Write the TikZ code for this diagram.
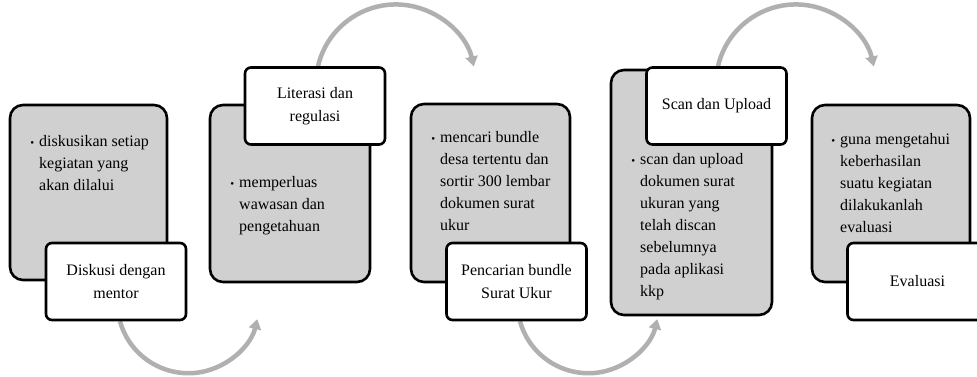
\documentclass[tikz,border=0pt]{standalone}
\usepackage{fontspec}
\setmainfont{Liberation Serif}
\usetikzlibrary{arrows.meta,backgrounds}
\definecolor{boxgray}{HTML}{D0D0D0}
\definecolor{arcgray}{HTML}{B0B0B0}
\tikzset{
  graybox/.style={draw=black, line width=2.6pt, fill=boxgray, rounded corners=13pt, inner sep=0pt},
  labelbox/.style={draw=black, line width=2.6pt, fill=white, rounded corners=6pt, inner sep=0pt,
    minimum width=140pt, minimum height=77pt, align=center,
    font=\fontsize{16}{23}\selectfont},
  bullettext/.style={anchor=north west, inner sep=0pt, align=left,
    font=\fontsize{16}{22}\selectfont, text=black},
  arcarrow/.style={draw=arcgray, line width=4.5pt, -{Triangle[length=10pt,width=12pt]}}
}
\newcommand{\bul}{\leavevmode\llap{{\fontsize{11}{11}\selectfont\textbullet}\hspace{5pt}}}
\begin{document}
\begin{tikzpicture}[x=1pt,y=1pt]
\useasboundingbox (0,0) rectangle (977,377);
\clip (0,0) rectangle (977,377);

% boxes
\node[graybox, minimum width=157pt, minimum height=175pt] (g1) at (88.5,184.5) {};
\node[graybox, minimum width=160pt, minimum height=177pt] (g2) at (290,183.5) {};
\node[graybox, minimum width=159pt, minimum height=178pt] (g3) at (490.5,184) {};
\node[graybox, minimum width=161pt, minimum height=245pt] (g4) at (691.5,184.5) {};
\node[graybox, minimum width=158pt, minimum height=177pt] (g5) at (891,183.5) {};

% bullet texts
\node[bullettext] (t1) at (39,242) {\bul diskusikan setiap\\kegiatan yang\\akan dilalui};
\node[bullettext] (t2) at (239,201) {\bul memperluas\\wawasan dan\\pengetahuan};
\node[bullettext] (t3) at (440,246) {\bul mencari bundle\\desa tertentu dan\\sortir 300 lembar\\dokumen surat\\ukur};
\node[bullettext] (t4) at (640,224) {\bul scan dan upload\\dokumen surat\\ukuran yang\\telah discan\\sebelumnya\\pada aplikasi\\kkp};
\node[bullettext] (t5) at (840,244) {\bul guna mengetahui\\keberhasilan\\suatu kegiatan\\dilakukanlah\\evaluasi};

% label boxes
\node[labelbox] (l1) at (116,95.5) {Diskusi dengan\\mentor};
\node[labelbox] (l2) at (315,271) {Literasi dan\\regulasi};
\node[labelbox] (l3) at (516.5,95.5) {Pencarian bundle\\Surat Ukur};
\node[labelbox] (l4) at (716.5,271) {Scan dan Upload};
\node[labelbox] (l5) at (917.5,95.5) {Evaluasi};

% arcs
\begin{pgfonlayer}{background}
\fill[white] (0,0) rectangle (977,377);
\draw[arcarrow] ([xshift=4pt]l1.south) arc[start angle=195.6, end angle=346.2, radius=71pt];
\draw[arcarrow] ([xshift=3pt]l2.north) arc[start angle=166.8, end angle=13, radius=80pt];
\draw[arcarrow] ([xshift=3.5pt]l3.south) arc[start angle=195.6, end angle=346.2, radius=71pt];
\draw[arcarrow] ([xshift=1.5pt]l4.north) arc[start angle=166.8, end angle=13, radius=80pt];
\end{pgfonlayer}
\end{tikzpicture}
\end{document}
